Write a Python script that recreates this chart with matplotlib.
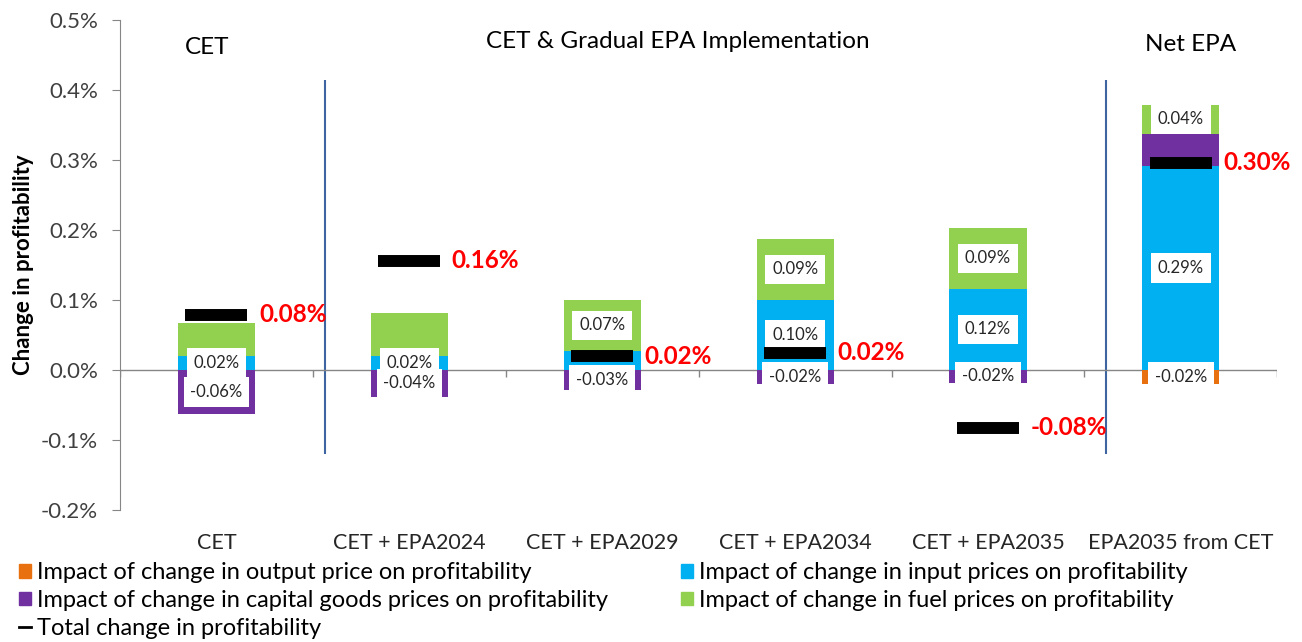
import numpy as np
import matplotlib
matplotlib.use("Agg")
import matplotlib.pyplot as plt
from matplotlib.patches import Patch
from matplotlib.lines import Line2D

plt.rcParams['font.family'] = ['Lato', 'DejaVu Sans']

# values in % change
categories = ["CET", "CET + EPA2024", "CET + EPA2029", "CET + EPA2034",
              "CET + EPA2035", "EPA2035 from CET"]
output_price = [0.0, 0.0, 0.0, 0.0, 0.0, -0.02]
input_prices = [0.02, 0.02, 0.027, 0.10, 0.116, 0.291]
capital_goods = [-0.063, -0.039, -0.029, -0.02, -0.019, 0.046]
fuel_prices = [0.047, 0.061, 0.073, 0.087, 0.087, 0.042]
total_change = [0.079, 0.156, 0.019, 0.024, -0.083, 0.296]

series_names = ["Impact of change in output price on profitability",
                "Impact of change in input prices on profitability",
                "Impact of change in capital goods prices on profitability",
                "Impact of change in fuel prices on profitability"]
total_name = "Total change in profitability"
section_titles = ["CET", "CET & Gradual EPA Implementation", "Net EPA"]
yticks = [-0.2, -0.1, 0.0, 0.1, 0.2, 0.3, 0.4, 0.5]

# data labels that are not shown in the original (series index, category index)
hidden_labels = {(3, 0), (3, 1), (1, 2), (2, 5)}

colors = ['#E8700F', '#00B0F0', '#7030A0', '#92D050']

fig = plt.figure(figsize=(13.02, 6.42), dpi=100)
ax = fig.add_axes([0.0922, 0.206, 0.8888, 0.763])

x = np.arange(len(categories))
width = 0.4
pos_base = np.zeros(len(categories))
neg_base = np.zeros(len(categories))
all_series = [output_price, input_prices, capital_goods, fuel_prices]

for s, (vals, col) in enumerate(zip(all_series, colors)):
    vals = np.array(vals)
    bottoms = np.where(vals >= 0, pos_base, neg_base)
    ax.bar(x, vals, width, bottom=bottoms, color=col, zorder=2)
    for i, v in enumerate(vals):
        if v == 0 or (s, i) in hidden_labels:
            continue
        ax.text(x[i], bottoms[i] + v / 2, '%.2f%%' % v, ha='center', va='center',
                fontsize=12, color='#262626', zorder=3,
                bbox=dict(boxstyle='square,pad=0.4', fc='white', ec='none'))
    pos_base = pos_base + np.where(vals > 0, vals, 0)
    neg_base = neg_base + np.where(vals < 0, vals, 0)

# total change markers
ax.plot(x, total_change, ls='none', marker='_', ms=44.6, mew=8.6,
        color='black', zorder=4)
for i, t in enumerate(total_change):
    ax.text(x[i] + 0.22, t, '%.2f%%' % t, ha='left', va='center',
            color='#FF0000', fontweight='bold', fontsize=17.5, zorder=5)

# section separators and titles
ax.vlines([0.563, 4.614], -0.121, 0.414, color='#3F65A0', lw=1.5, zorder=1)
ax.text(-0.05, 0.461, section_titles[0], ha='center', va='center', fontsize=17.5)
ax.text(2.39, 0.469, section_titles[1], ha='center', va='center', fontsize=17.5)
ax.text(5.05, 0.465, section_titles[2], ha='center', va='center', fontsize=17.5)

# zero line with category boundary ticks
ax.axhline(0, color='#868686', lw=1, zorder=1)
ax.vlines(np.arange(len(categories) + 1) - 0.5, -0.011, 0, color='#868686',
          lw=1, zorder=1)

ax.set_xlim(-0.5, len(categories) - 0.5)
ax.set_ylim(-0.2, 0.5)
ax.set_yticks(yticks)
ax.set_yticklabels(['%.1f%%' % v for v in yticks], fontsize=16, color='#404040')
ax.set_xticks(x)
ax.set_xticklabels(categories, fontsize=15.5, color='#262626')
ax.tick_params(axis='x', length=0, pad=17)
ax.tick_params(axis='y', length=6, color='#868686', pad=10)
for side in ['top', 'right', 'bottom']:
    ax.spines[side].set_visible(False)
ax.spines['left'].set_color('#868686')
ax.set_ylabel('Change in profitability', fontsize=16, fontweight='bold', labelpad=5)

# legend, filled row by row like the original
handles = [Patch(color=c) for c in colors]
total_handle = Line2D([], [], color='black', lw=2)
leg_handles = [handles[0], handles[2], total_handle, handles[1], handles[3]]
leg_labels = [series_names[0], series_names[2], total_name, series_names[1], series_names[3]]
fig.legend(leg_handles, leg_labels, loc='upper left', bbox_to_anchor=(0.004, 0.146),
           ncol=2, frameon=False, fontsize=17, handlelength=0.5, handleheight=0.5,
           handletextpad=0.25, labelspacing=0.28, columnspacing=3.1,
           borderaxespad=0.2)

fig.savefig('out.png', dpi=100)
